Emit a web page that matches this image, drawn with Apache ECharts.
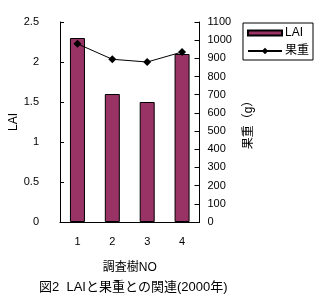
<!DOCTYPE html>
<html><head><meta charset="utf-8">
<script src="https://cdn.jsdelivr.net/npm/echarts@6/dist/echarts.min.js"></script>
<style>html,body{margin:0;padding:0;background:#fff}#c{width:333px;height:300px}</style>
</head><body><div id="c"></div>
<script>
const categories = ['1', '2', '3', '4'];
const laiValues = [2.3, 1.6, 1.5, 2.1];
const weightValues = [980, 895, 880, 935];
const FONT = '"Liberation Sans", "Noto Sans CJK JP", sans-serif';
const chart = echarts.init(document.getElementById('c'), null, {renderer: 'canvas'});
chart.setOption({
  animation: false,
  textStyle: {fontFamily: FONT, color: '#000'},
  title: {
    text: '図2  LAIと果重との関連(2000年)',
    left: 34, top: 276,
    textStyle: {fontSize: 13, fontWeight: 'normal', color: '#000', fontFamily: FONT}
  },
  legend: {
    right: 20, top: 23,
    orient: 'vertical',
    borderColor: '#000', borderWidth: 1,
    padding: [4, 4, 3, 4],
    itemGap: 6,
    itemWidth: 34, itemHeight: 8,
    textStyle: {fontSize: 12, color: '#000', fontFamily: FONT, padding: [0, 0, 0, -2]},
    data: [
      {name: 'LAI', icon: 'path://M0,0h34v5h-34z'},
      {name: '果重'}
    ]
  },
  grid: {left: 60, right: 133.5, top: 22, bottom: 78},
  xAxis: {
    type: 'category',
    data: categories,
    name: '調査樹NO',
    nameLocation: 'middle',
    nameGap: 40,
    nameTextStyle: {fontSize: 12, color: '#000'},
    axisLine: {lineStyle: {color: '#000', width: 1}},
    axisTick: {inside: true, length: 4, lineStyle: {color: '#000'}},
    axisLabel: {fontSize: 11, color: '#000', margin: 14}
  },
  yAxis: [
    {
      type: 'value', min: 0, max: 2.5, interval: 0.5,
      name: 'LAI', nameLocation: 'middle', nameGap: 40, nameRotate: 90,
      nameTextStyle: {fontSize: 12, color: '#000'},
      axisLine: {show: true, lineStyle: {color: '#000'}},
      axisTick: {show: true, inside: true, length: 4, lineStyle: {color: '#000'}},
      axisLabel: {fontSize: 11, color: '#000', margin: 21},
      splitLine: {show: false}
    },
    {
      type: 'value', min: 0, max: 1100, interval: 100, position: 'right',
      name: '果重（g）', nameLocation: 'middle', nameGap: 43, nameRotate: 90,
      nameTextStyle: {fontSize: 12, color: '#000'},
      axisLine: {show: true, lineStyle: {color: '#000'}},
      axisTick: {show: true, inside: true, length: 5, lineStyle: {color: '#000'}},
      axisLabel: {fontSize: 11, color: '#000', margin: 8, formatter: function (v) { return String(v); }},
      splitLine: {show: false}
    }
  ],
  series: [
    {
      name: 'LAI', type: 'bar', data: laiValues, yAxisIndex: 0,
      barWidth: 15,
      itemStyle: {color: '#993366', borderColor: '#000', borderWidth: 1}
    },
    {
      name: '果重', type: 'line', data: weightValues, yAxisIndex: 1,
      symbol: 'diamond', symbolSize: 8,
      lineStyle: {color: '#000', width: 1},
      itemStyle: {color: '#000'}
    }
  ]
});
</script></body></html>
